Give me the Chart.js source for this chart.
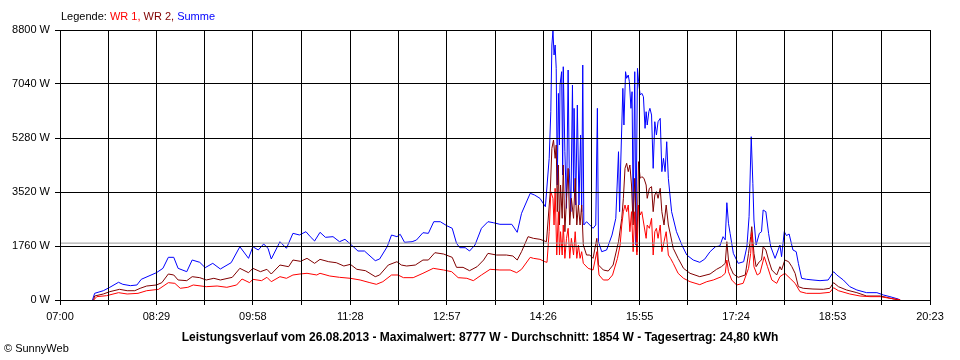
<!DOCTYPE html>
<html>
<head>
<meta charset="utf-8">
<script src="https://cdn.jsdelivr.net/npm/chart.js@4.4.0/dist/chart.umd.min.js"></script>
<style>
html, body { margin: 0; padding: 0; background: #fff; }
#wrap { width: 960px; height: 360px; position: relative; }
</style>
</head>
<body>
<div id="wrap"><canvas id="mycanvas"></canvas></div>
<script>
// axis labels
var xLabels = ['07:00', '08:29', '09:58', '11:28', '12:57', '14:26', '15:55', '17:24', '18:53', '20:23'];
var yMax = 8800;
var yStep = 1760;
var average = 1854;
var legendParts = [['Legende: ', '#000000'], ['WR 1, ', '#ff0000'], ['WR 2, ', '#800000'], ['Summe', '#0000ff']];
var title = 'Leistungsverlauf vom 26.08.2013 - Maximalwert: 8777 W - Durchschnitt: 1854 W - Tagesertrag: 24,80 kWh';

// Summe: minutes after midnight / watts
var sumMin = [450,452,460,466,474,478,485,491,495,509, 515,520,525,529,537,542,549,554,561,568,
  578,586,594,598,603,608,612,615,623,629, 635,641,647,651,655,660,665,672,678,683,
  688,695,701,711,715,722,726,731,734,738, 745,749,755,760,765,771,777,782,786,789,
  794,798,803,809,815,820,826,837,842,846, 854,858,863,868,
  871.5,873,874,875,876,877,878,879,880,881, 881.5,883,884,884.5,886,887.5,889,890,891.5,893,
  894,894.5,896,897.5,899,900.5,901.5,902.5,903.5,906, 909,912,914.5,916,917,920,924.5,929.5,933,935.5,
  936.5,937.5,939.5,940.5,942,943,944.5,945.5,947,948, 949,950.5,951.5,953,954,955.5,957,958.5,960,961,
  962,963.5,964.5,966,967.5,969,970.5,972,974,975.5, 977,978.5,980,981.5,984.5,989,994,998.5,1004.5,1010.5,
  1015,1020,1025,1029,1032,1034,1035.5,1037,1038.5,1041.5, 1046,1051,1054,1056,1058,1059.5,1060.5,1062.5,1065.5,1067.5,
  1069,1071.5,1074,1076,1080,1084.5,1086,1088.5,1090.5,1093, 1096.5,1099.5,1101.5,1104.5,1109,1115,1121.5,1129,1134,1137,
  1143,1149,1155.5,1164.5,1174,1180,1186,1193.5,1195.5];
var sumW = [0,218,303,414,577,511,467,489,674,890, 1032,1391,1391,1032,923,1304,1228,1054,1195,1010,
  1217,1737,1358,1737,1630,1825,1685,1336,1900,1685, 2173,2120,2226,2064,1923,2206,2043,2064,1900,1978,
  1825,1597,1597,1281,1336,1737,2118,2064,2141,1880, 1900,1955,2193,2173,2552,2552,2421,2337,1847,1705,
  1705,1597,1792,2337,2552,2519,2467,2467,2206,2825, 3477,3422,3314,3040,
  4617,6137,8311,8777,7985,8311,7550,3748,6734,5051, 7007,7441,4074,7603,4833,2987,7496,4291,2878,7007,
  3531,6247,3096,6355,3096,5377,2878,7658,2444,2552, 2444,2337,2444,6247,1900,1575,1630,2118,2662,4833,
  2878,4400,6898,5703,7441,7225,7333,7115,6247,6789, 2878,7441,1792,7550,7115,6681,6735,6626,5594,6137,
  5703,6137,6247,6029,4291,5811,5377,5811,5920,4183, 4617,4183,5159,3966,2878,2226,1792,1466,1303,1228,
  1330,1575,1737,1760,2064,1960,3171,2500,2173,1520, 1195,1248,1737,2715,5322,3803,2607,1792,2173,2226,
  2933,2878,2173,1737,1358,1792,1412,2226,2100,2150, 1630,1575,1195,707,674,652,630,652,923,815,
  652,434,326,239,239,163,109,33,0];

// WR 2
var wr2Min = [451,452,460,466,475,482,489,494,500,509, 514,520,525,529,537,542,549,555,562,568,
  579,586,594,598,605,611,615,623,631,635, 642,648,655,660,668,675,682,688,694,702,
  711,715,723,731,735,740,748,755,760,766, 774,782,786,792,798,805,811,815,823,832,
  838,842,846,852,857,863,869,
  872.5,874,875.5,877,878,879,880,881,882,883.5, 884.5,886,887.5,889,890.5,892,894,895.5,897,898.5,
  900,901.5,903,906,909,912,915.5,917,921.5,926, 930.5,935.5,938.5,940,941.5,943,944.5,946,947.5,949,
  950.5,952.5,954,955.5,957,959,961,962,964,966, 967.5,969,970.5,972,974,975.5,977.5,979.5,981.5,983.5,
  986,990.5,995.5,1001.5,1010.5,
  1020,1026,1030.5,1034,1035.5,1037,1038.5,1041.5,1046,1052.5, 1055.5,1057.5,1058.5,1060.5,1062.5,1065.5,1067.5,1069,1071.5,1074,
  1077,1081.5,1084.5,1086,1089,1092.5,1095.5,1098.5,1101.5,1106, 1115,1124.5,1130.5,1134,1138.5,1146,1155.5,1164.5,1177,1183,
  1190.5,1195.5];
var wr2W = [0,130,196,272,348,303,303,381,456,489, 565,847,815,652,630,760,728,652,707,652,
  739,1032,890,1032,923,1000,847,1140,1086,1303, 1260,1358,1195,1325,1248,1216,1108,1162,1000,955,
  760,815,1140,1248,1140,1108,1140,1303,1303,1542, 1499,1390,1064,1064,955,1086,1303,1520,1466,1466,
  1434,1303,1575,2064,2010,1978,1900,
  3531,4943,5214,4617,5051,2878,4400,2444,3748,2662, 4400,2226,3314,4291,2444,3314,2662,3966,2444,3096,
  2444,3096,1792,1466,1466,1358,2010,1140,978,945, 1140,1900,2662,3314,4291,4455,4183,4400,3748,2444,
  3966,1575,4508,3966,4020,3966,3748,3314,3640,3694, 2878,3422,3531,3314,3640,2878,2444,3096,2444,2118,
  1685,1358,1032,870,760,
  847,1000,1086,1195,1900,1303,1086,847,739,815, 1520,2064,2390,1520,1086,1248,1303,1737,1630,1303,
  978,815,1086,978,1303,1248,1086,870,434,381, 358,348,381,565,434,326,239,130,130,87,
  22,0];

// WR 1
var wr1Min = [451,454,463,474,482,492,500,511,520,526, 531,538,543,555,565,574,583,588,595,598,
  606,611,615,623,629,635,641.5,648,657,660, 669,678,688,697,706,712,718,726,732,737,
  746,755,764.5,774,781.5,787.5,795.5,801.5,809,817, 826,835.5,841.5,846,854,857,863,867.5,869.5,
  871.5,873,875,876,877,878.5,880,881,882,883.5, 884.5,886,887.5,889,890.5,892,894,895.5,897,898.5,
  900,901.5,903,907.5,912,915.5,917.5,921.5,926,930, 934.5,937,938.5,940,941.5,943,944.5,946,947.5,949,
  950.5,952.5,954,955.5,957,959,961,962,964,966, 967.5,969,970.5,972,974,975.5,977.5,979.5,981.5,983.5,
  986,990.5,995.5,1001.5,1010.5,
  1017,1023,1030.5,1034,1035.5,1037,1040,1044.5,1050.5,1055.5, 1057.5,1058.5,1060.5,1063.5,1066,1070,1073,1077,1081.5,1084.5,
  1089,1094,1098.5,1103,1109,1121.5,1130.5,1134,1138.5,1149, 1158.5,1167.5,1177,1186,1193.5,1195.5];
var wr1W = [0,109,141,239,196,217,303,348,565,543, 381,414,489,434,456,414,489,684,565,674,
  630,739,597,760,707,815,847,870,815,870, 782,739,707,652,565,511,597,815,815,728,
  728,870,1032,978,923,728,707,630,815,1000, 978,978,890,1000,1390,1358,1325,1248,1228,
  2226,3531,3314,2444,3640,1466,2878,1466,2226,1466, 2444,1358,2010,2337,1358,2010,1466,2226,1358,1792,
  1358,1575,1195,1032,978,1575,815,652,652,815, 1358,1792,2444,2878,3096,2878,3096,2226,2878,1575,
  2878,1466,3096,2770,2878,2444,2010,2444,2337,2662, 1466,2226,2337,2010,2444,1575,1900,2226,1466,1358,
  1195,870,707,597,500,
  597,652,760,870,1303,923,652,489,543,1032, 1520,2200,1086,815,870,1412,1086,652,543,760,
  870,700,543,272,217,217,250,400,303,196, 130,109,109,55,20,0];

function toMin(s) {
  var p = s.split(':');
  return parseInt(p[0], 10) * 60 + parseInt(p[1], 10);
}
function pts(t, w) {
  var out = [];
  for (var i = 0; i < t.length; i++) out.push({x: t[i], y: w[i]});
  return out;
}

var labelMins = xLabels.map(toMin);
var gridMins = [];
for (var i = 0; i < labelMins.length; i++) {
  gridMins.push(labelMins[i]);
  if (i < labelMins.length - 1) gridMins.push((labelMins[i] + labelMins[i + 1]) / 2);
}
var xMin = labelMins[0], xMax = labelMins[labelMins.length - 1];

var fontFam = '"Liberation Sans", Arial, sans-serif';
Chart.defaults.font.family = fontFam;
Chart.defaults.font.size = 11;
Chart.defaults.color = '#000';

var textPlugin = {
  id: 'texts',
  afterDraw: function(chart) {
    var ctx = chart.ctx;
    ctx.save();
    ctx.textBaseline = 'alphabetic';
    ctx.textAlign = 'left';
    ctx.font = '11px ' + fontFam;
    var x = 61;
    legendParts.forEach(function(p) {
      ctx.fillStyle = p[1];
      ctx.fillText(p[0], x, 20);
      x += ctx.measureText(p[0]).width;
    });
    ctx.fillStyle = '#000';
    ctx.fillText('\u00a9 SunnyWeb', 4, 352);
    ctx.font = 'bold 12px ' + fontFam;
    ctx.textAlign = 'center';
    ctx.fillText(title, 480, 341);
    ctx.restore();
  }
};

var line = function(label, data, color) {
  return {
    label: label, data: data, borderColor: color, backgroundColor: color,
    borderWidth: 1, pointRadius: 0, fill: false, tension: 0
  };
};

var ctx = document.getElementById('mycanvas');
var chart = new Chart(ctx, {
  type: 'line',
  data: {
    datasets: [
      line('Durchschnitt', [{x: xMin, y: average}, {x: xMax, y: average}], '#999999'),
      line('WR 1', pts(wr1Min, wr1W), '#ff0000'),
      line('WR 2', pts(wr2Min, wr2W), '#800000'),
      line('Summe', pts(sumMin, sumW), '#0000ff')
    ]
  },
  options: {
    responsive: true,
    maintainAspectRatio: false,
    animation: false,
    events: [],
    layout: { padding: { top: 30, right: 30, left: 0, bottom: 0 } },
    plugins: { legend: { display: false }, tooltip: { enabled: false } },
    scales: {
      x: {
        type: 'linear', min: xMin, max: xMax,
        afterBuildTicks: function(s) { s.ticks = gridMins.map(function(v) { return {value: v}; }); },
        afterFit: function(s) { s.height = 60; },
        ticks: {
          autoSkip: false, maxRotation: 0, padding: 5,
          callback: function(v) { var k = labelMins.indexOf(v); return k >= 0 ? xLabels[k] : ''; }
        },
        grid: { color: '#000', tickLength: 5, z: 1 },
        border: { color: '#000', z: 2 }
      },
      y: {
        min: 0, max: yMax,
        afterFit: function(s) { s.width = 60; },
        ticks: { stepSize: yStep, padding: 5, callback: function(v) { return v + ' W'; } },
        grid: { color: '#000', tickLength: 5, z: 1 },
        border: { color: '#000', z: 2 }
      }
    }
  },
  plugins: [textPlugin]
});
</script>
</body>
</html>
